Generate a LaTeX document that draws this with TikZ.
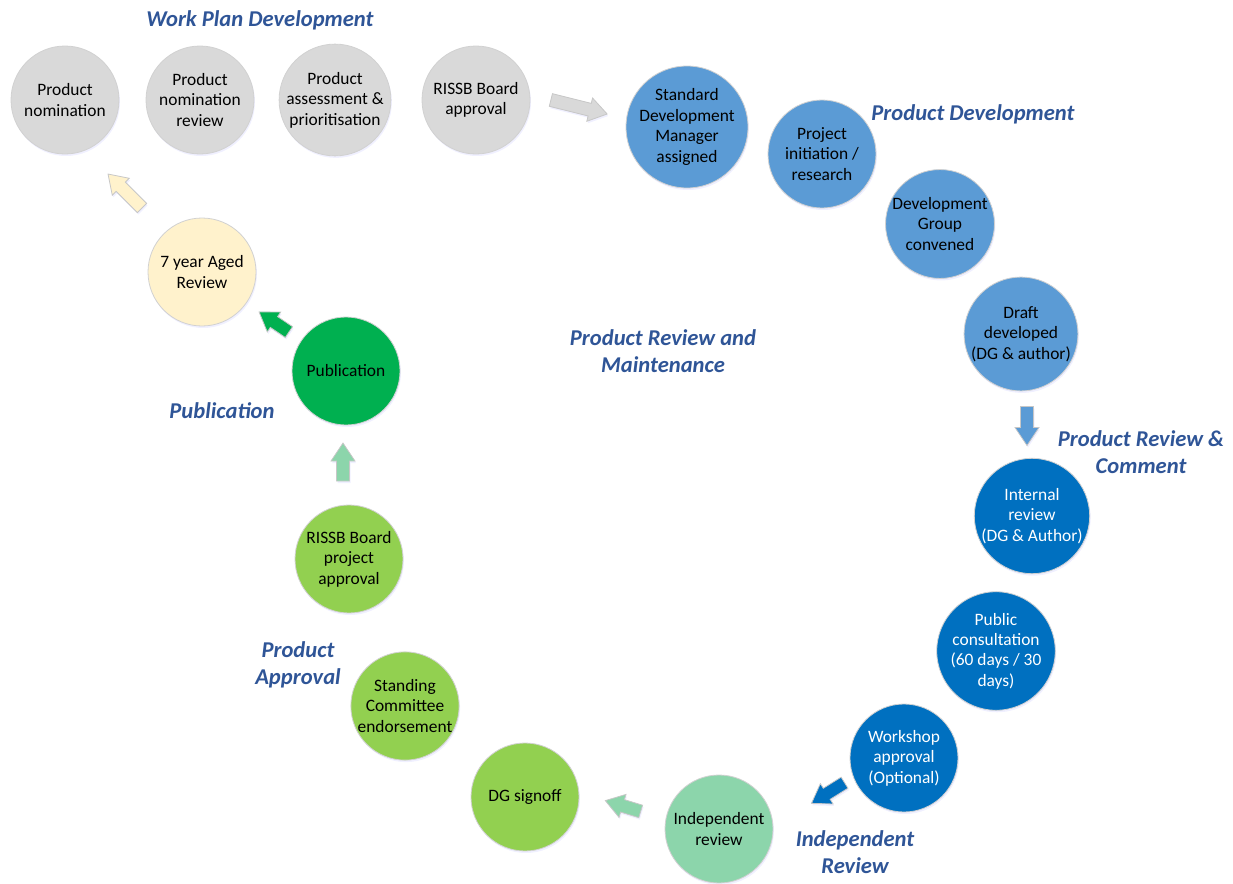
\documentclass[tikz,border=0pt]{standalone}
\usepackage{fontspec}
\setmainfont{Carlito}
\usetikzlibrary{shadows}

\definecolor{hdblue}{HTML}{2F5597}
\definecolor{wpgrey}{HTML}{D9D9D9}
\definecolor{pdblue}{HTML}{5B9BD5}
\definecolor{rvblue}{HTML}{0070C0}
\definecolor{irgreen}{HTML}{8CD5AB}
\definecolor{apgreen}{HTML}{92D050}
\definecolor{pbgreen}{HTML}{00B050}
\definecolor{agyellow}{HTML}{FFF2CC}

\tikzset{
  stage/.style={circle,draw=black!18,line width=0.4pt,minimum size=54pt,inner sep=0pt,
    align=center,font=\fontsize{8.7}{10.2}\selectfont,
    drop shadow={shadow xshift=0.5pt,shadow yshift=-1pt,opacity=0.15,fill=blue!40}},
  phase/.style={align=center,text=hdblue,font=\fontsize{11.3}{13.5}\selectfont\bfseries\itshape},
  arrowline/.style={draw=black!22,line width=0.4pt,
    drop shadow={shadow xshift=0.5pt,shadow yshift=-1pt,opacity=0.15,fill=blue!40}}
}

% block arrow: centre, angle, length, colour
\newcommand{\blockarrow}[4]{%
  \begin{scope}[shift={#1},rotate=#2]
    \filldraw[arrowline,fill=#4] (-#3/2,-6.5) -- (#3/2-18,-6.5) -- (#3/2-18,-12)
      -- (#3/2,0) -- (#3/2-18,12) -- (#3/2-18,6.5) -- (-#3/2,6.5) -- cycle;
  \end{scope}}

\begin{document}
\begin{tikzpicture}[x=0.5pt,y=-0.5pt]

\useasboundingbox (0,0) rectangle (1233,884);

% work plan
\node[stage,fill=wpgrey] (nom) at (65,100) {Product\\nomination};
\node[stage,fill=wpgrey] (nomrev) at (200,100) {Product\\nomination\\review};
\node[stage,fill=wpgrey] (assess) at (335,100) {Product\\assessment \&\\prioritisation};
\node[stage,fill=wpgrey] (board) at (476,100) {RISSB Board\\approval};

% development
\node[stage,fill=pdblue] (sdm) at (687,127) {Standard\\Development\\Manager\\assigned};
\node[stage,fill=pdblue] (init) at (822,154) {Project\\initiation /\\research};
\node[stage,fill=pdblue] (dg) at (940,224) {Development\\Group\\convened};
\node[stage,fill=pdblue] (draft) at (1021,334) {Draft\\developed\\(DG \& author)};

% review and comment
\node[stage,fill=rvblue,text=white] (internal) at (1032,516) {Internal\\review\\(DG \& Author)};
\node[stage,fill=rvblue,text=white] (public) at (996,651) {Public\\consultation\\(60 days / 30\\days)};
\node[stage,fill=rvblue,text=white] (workshop) at (904,758) {Workshop\\approval\\(Optional)};

\node[stage,fill=irgreen] (indep) at (719,829) {Independent\\review};

% approval
\node[stage,fill=apgreen] (signoff) at (525,797) {DG signoff};
\node[stage,fill=apgreen] (standing) at (405,706) {Standing\\Committee\\endorsement};
\node[stage,fill=apgreen] (projappr) at (349,559) {RISSB Board\\project\\approval};

\node[stage,fill=pbgreen] (publ) at (346,371) {Publication};
\node[stage,fill=agyellow] (aged) at (202,272) {7 year Aged\\Review};

% phase titles
\node[phase] (twp) at (260,20) {Work Plan Development};
\node[phase] (tpd) at (973,114) {Product Development};
\node[phase] (trm) at (663,351) {Product Review and\\Maintenance};
\node[phase] (trc) at (1141,452) {Product Review \&\\Comment};
\node[phase] (tpb) at (222,411) {Publication};
\node[phase] (tap) at (298,665) {Product\\Approval};
\node[phase] (tir) at (855,852) {Independent\\Review};

% arrows
\blockarrow{(579,107)}{-14}{58}{wpgrey}
\blockarrow{(1027,426)}{-90}{39}{pdblue}
\blockarrow{(828,793)}{212}{39}{rvblue}
\blockarrow{(623,806)}{163}{37}{irgreen}
\blockarrow{(343,462)}{90}{38}{irgreen}
\blockarrow{(274,322)}{146}{36}{pbgreen}
\blockarrow{(125,191)}{135}{48}{agyellow}

\end{tikzpicture}
\end{document}
